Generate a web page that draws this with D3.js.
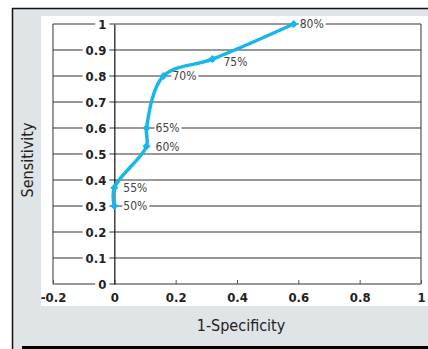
<!DOCTYPE html>
<html>
<head>
<meta charset="utf-8">
<script src="https://cdn.jsdelivr.net/npm/d3@7"></script>
<style>
	body { margin: 0; background: #fff; }
	svg text { font-family: "Liberation Sans Narrow", "DejaVu Sans Condensed", "Roboto Condensed", sans-serif; }
</style>
</head>
<body>
<div class="mainContainer"></div>
<script>
// ROC points
var fpr = [0, 0, 0.105, 0.105, 0.16, 0.32, 0.585];
var tpr = [0.30, 0.37, 0.53, 0.60, 0.80, 0.865, 1.0];
var cutLabels = ["50%", "55%", "60%", "65%", "70%", "75%", "80%"];
var xTicks = [-0.2, 0, 0.2, 0.4, 0.6, 0.8, 1];
var yTicks = [0, 0.1, 0.2, 0.3, 0.4, 0.5, 0.6, 0.7, 0.8, 0.9, 1];

var W = 428, H = 349;
var svg = d3.select(".mainContainer").append("svg").attr("width", W).attr("height", H);

// frame
svg.append("rect").attr("x", 12).attr("y", 8).attr("width", W - 12).attr("height", H - 8).style("fill", "#dfe4e7");
svg.append("rect").attr("x", 41).attr("y", 16).attr("width", W - 41).attr("height", 290).style("fill", "#fff");
svg.append("line").attr("x1", 12.5).attr("x2", 12.5).attr("y1", 8).attr("y2", H).style("stroke", "#111").style("stroke-width", 1.5);
svg.append("line").attr("x1", 12).attr("x2", W).attr("y1", 8.5).attr("y2", 8.5).style("stroke", "#111").style("stroke-width", 1.5);
svg.append("rect").attr("x", 22).attr("y", 346).attr("width", W - 22).attr("height", 3).style("fill", "#000");

var x = d3.scaleLinear().domain([-0.2, 1]).range([53, 421]);
var y = d3.scaleLinear().domain([0, 1]).range([284, 24]);

// horizontal grid
svg.append("g").selectAll("line").data(yTicks).enter().append("line")
	.attr("x1", x(-0.2)).attr("x2", x(1))
	.attr("y1", function(d){ return y(d); }).attr("y2", function(d){ return y(d); })
	.style("stroke", "#333").style("stroke-width", 1);
// box sides
svg.append("line").attr("x1", x(-0.2)).attr("x2", x(-0.2)).attr("y1", y(0)).attr("y2", y(1)).style("stroke", "#333");
svg.append("line").attr("x1", x(1)).attr("x2", x(1)).attr("y1", y(0)).attr("y2", y(1)).style("stroke", "#333");

// x axis
var xAxis = svg.append("g").attr("transform", "translate(0," + y(0) + ")")
	.call(d3.axisBottom(x).tickValues(xTicks).tickSizeInner(-4).tickSizeOuter(0).tickPadding(9).tickFormat(function(d){ return String(d); }));
xAxis.select(".domain").remove();
xAxis.selectAll(".tick line").style("stroke", "#555");
xAxis.selectAll("text").style("font-size", "13px").style("font-weight", "bold").style("fill", "#222");

// y axis at x = 0 with labels sitting on the grid lines
var yAxis = svg.append("g").attr("transform", "translate(" + x(0) + ",0)")
	.call(d3.axisLeft(y).tickValues(yTicks).tickSize(0).tickPadding(8).tickFormat(function(d){ return String(d); }));
yAxis.select(".domain").style("stroke", "#111").style("stroke-width", 1.2);
yAxis.selectAll("text").style("font-size", "13px").style("font-weight", "bold").style("fill", "#222");
yAxis.selectAll(".tick").each(function() {
	var t = d3.select(this).select("text");
	var b = t.node().getBBox();
	d3.select(this).insert("rect", "text").attr("x", b.x - 3).attr("y", b.y + 1).attr("width", b.width + 6).attr("height", b.height - 2).style("fill", "#fff");
});

// curve
var pts = fpr.map(function(d, i){ return { x: d, y: tpr[i], label: cutLabels[i] }; });
var line = d3.line().x(function(d){ return x(d.x); }).y(function(d){ return y(d.y); }).curve(d3.curveCatmullRom.alpha(0.5));

// point labels
var lab = svg.append("g").selectAll("g").data(pts).enter().append("g")
	.attr("transform", function(d){
		var dx = 9, dy = 0;
		if (d.label == "75%") { dx = 11; dy = 3; }
		if (d.label == "80%") { dx = 6; }
		return "translate(" + (x(d.x) + dx) + "," + (y(d.y) + dy) + ")";
	});
lab.append("text").attr("dy", "0.36em").style("font-size", "12px").style("fill", "#444").text(function(d){ return d.label; });
lab.each(function() {
	var b = d3.select(this).select("text").node().getBBox();
	d3.select(this).insert("rect", "text").attr("x", b.x - 1).attr("y", b.y + 2).attr("width", b.width + 3).attr("height", b.height - 4).style("fill", "#fff");
});

svg.append("path").datum(pts).attr("d", line).style("fill", "none").style("stroke", "#18b6e9").style("stroke-width", 3.5).style("stroke-linejoin", "round");
svg.append("g").selectAll("path").data(pts).enter().append("path")
	.attr("d", d3.symbol().type(d3.symbolDiamond2).size(42))
	.attr("transform", function(d){ return "translate(" + x(d.x) + "," + y(d.y) + ")"; })
	.style("fill", "#18b6e9");

// axis titles
svg.append("text").attr("transform", "translate(33,160) rotate(-90)").attr("text-anchor", "middle")
	.style("font-size", "16px").style("fill", "#222").text("Sensitivity");
svg.append("text").attr("x", 241).attr("y", 331).attr("text-anchor", "middle")
	.style("font-size", "16px").style("fill", "#222").text("1-Specificity");
</script>
</body>
</html>
